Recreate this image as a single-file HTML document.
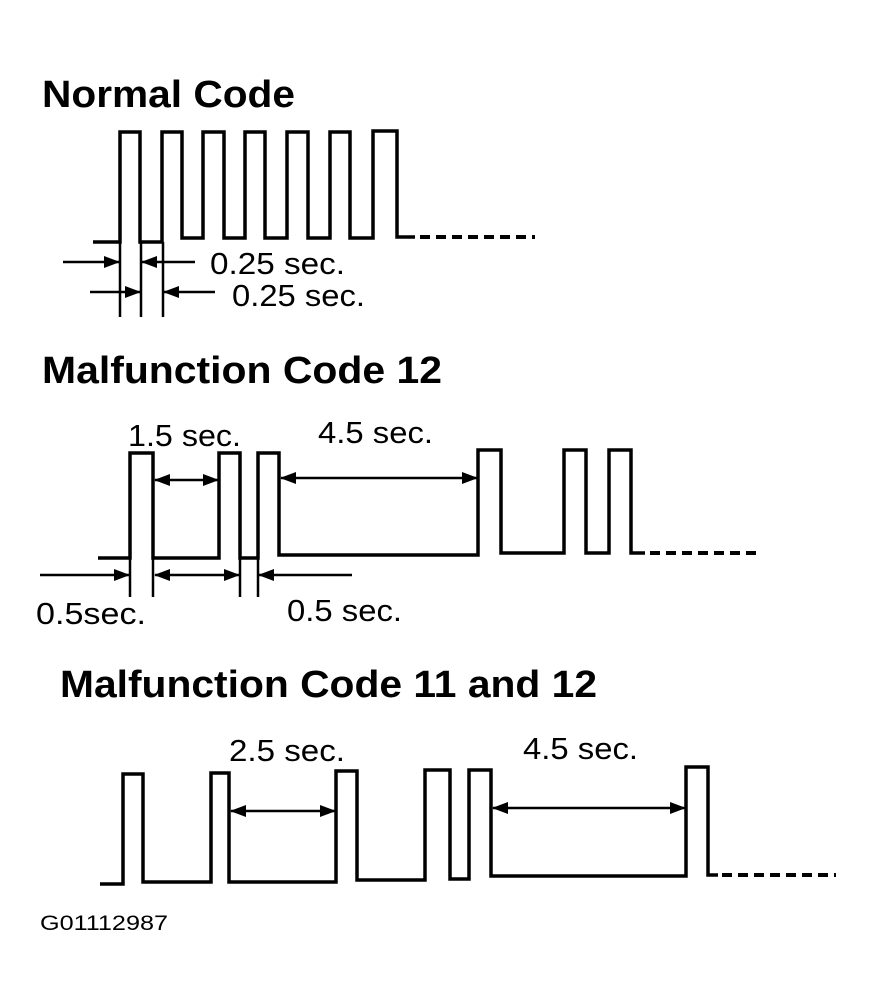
<!DOCTYPE html>
<html><head><meta charset="utf-8"><style>html,body{margin:0;padding:0;background:#fff}svg{display:block}</style></head><body>
<svg width="871" height="1007" viewBox="0 0 871 1007" xmlns="http://www.w3.org/2000/svg">
<defs>
<marker id="ah" markerWidth="16" markerHeight="12" refX="15" refY="6" orient="auto" markerUnits="userSpaceOnUse" viewBox="0 0 16 12"><path d="M0,0 L16,6 L0,12 Z" fill="#000"/></marker>
<marker id="as" markerWidth="16" markerHeight="12" refX="1" refY="6" orient="auto" markerUnits="userSpaceOnUse" viewBox="0 0 16 12"><path d="M16,0 L0,6 L16,12 Z" fill="#000"/></marker>
</defs>
<g font-family="Liberation Sans, sans-serif" fill="#000">
<text x="42" y="107" font-size="38" font-weight="bold" textLength="253" lengthAdjust="spacingAndGlyphs">Normal Code</text>
<text x="42" y="383" font-size="38" font-weight="bold" textLength="400" lengthAdjust="spacingAndGlyphs">Malfunction Code 12</text>
<text x="60" y="697" font-size="38" font-weight="bold" textLength="537" lengthAdjust="spacingAndGlyphs">Malfunction Code 11 and 12</text>
<text x="40" y="930" font-size="21" textLength="128" lengthAdjust="spacingAndGlyphs">G01112987</text>
<g font-size="31">
<text x="210" y="274" textLength="135" lengthAdjust="spacingAndGlyphs">0.25 sec.</text>
<text x="232" y="306" textLength="133" lengthAdjust="spacingAndGlyphs">0.25 sec.</text>
<text x="128" y="446" textLength="113" lengthAdjust="spacingAndGlyphs">1.5 sec.</text>
<text x="318" y="443" textLength="115" lengthAdjust="spacingAndGlyphs">4.5 sec.</text>
<text x="36" y="624" textLength="110" lengthAdjust="spacingAndGlyphs">0.5sec.</text>
<text x="287" y="621" textLength="115" lengthAdjust="spacingAndGlyphs">0.5 sec.</text>
<text x="229" y="761" textLength="116" lengthAdjust="spacingAndGlyphs">2.5 sec.</text>
<text x="523" y="759" textLength="115" lengthAdjust="spacingAndGlyphs">4.5 sec.</text>
</g>
</g>
<g fill="none" stroke="#000" stroke-width="3.5" stroke-linejoin="miter">
<polyline points="93,242 120,242 120,132 140,132 140,242 162,242 162,132 182,132 182,238 203,238 203,132 224,132 224,238 245,238 245,132 265,132 265,238 287,238 287,132 308,132 308,238 330,238 330,132 350,132 350,238 373,238 373,131 397,131 397,237 415,237"/>
<line x1="420" y1="237" x2="535" y2="237" stroke-dasharray="10,6" stroke-width="4"/>
<g stroke-width="2.5">
<line x1="120" y1="242" x2="120" y2="317"/><line x1="141" y1="242" x2="141" y2="317"/><line x1="163" y1="242" x2="163" y2="317"/>
<line x1="63" y1="262" x2="119" y2="262" marker-end="url(#ah)"/>
<line x1="195" y1="262" x2="142" y2="262" marker-end="url(#ah)"/>
<line x1="90" y1="292" x2="140" y2="292" marker-end="url(#ah)"/>
<line x1="215" y1="292" x2="164" y2="292" marker-end="url(#ah)"/>
</g>
<polyline points="98,558 130,558 130,453 153,453 153,558 219,558 219,453 240,453 240,558 258,558 258,453 279,453 279,555 478,555 478,450 501,450 501,553 564,553 564,450 586,450 586,553 609,553 609,450 631,450 631,553 645,553"/>
<line x1="650" y1="553" x2="762" y2="553" stroke-dasharray="10,6" stroke-width="4"/>
<g stroke-width="2.5">
<line x1="130" y1="558" x2="130" y2="597"/><line x1="153" y1="558" x2="153" y2="597"/><line x1="240" y1="558" x2="240" y2="597"/><line x1="258" y1="558" x2="258" y2="597"/>
<line x1="155" y1="480" x2="218" y2="480" marker-start="url(#as)" marker-end="url(#ah)"/>
<line x1="281" y1="478" x2="477" y2="478" marker-start="url(#as)" marker-end="url(#ah)"/>
<line x1="40" y1="575" x2="129" y2="575" marker-end="url(#ah)"/>
<line x1="155" y1="575" x2="239" y2="575" marker-start="url(#as)" marker-end="url(#ah)"/>
<line x1="352" y1="575" x2="259" y2="575" marker-end="url(#ah)"/>
</g>
<polyline points="100,884 123,884 123,774 143,774 143,882 211,882 211,773 229,773 229,882 336,882 336,771 357,771 357,880 425,880 425,770 450,770 450,879 469,879 469,770 491,770 491,876 686,876 686,767 708,767 708,875 718,875"/>
<line x1="722" y1="875" x2="836" y2="875" stroke-dasharray="10,6" stroke-width="4"/>
<g stroke-width="2.5">
<line x1="231" y1="811" x2="335" y2="811" marker-start="url(#as)" marker-end="url(#ah)"/>
<line x1="493" y1="808" x2="685" y2="808" marker-start="url(#as)" marker-end="url(#ah)"/>
</g>
</g>
</svg>
</body></html>
